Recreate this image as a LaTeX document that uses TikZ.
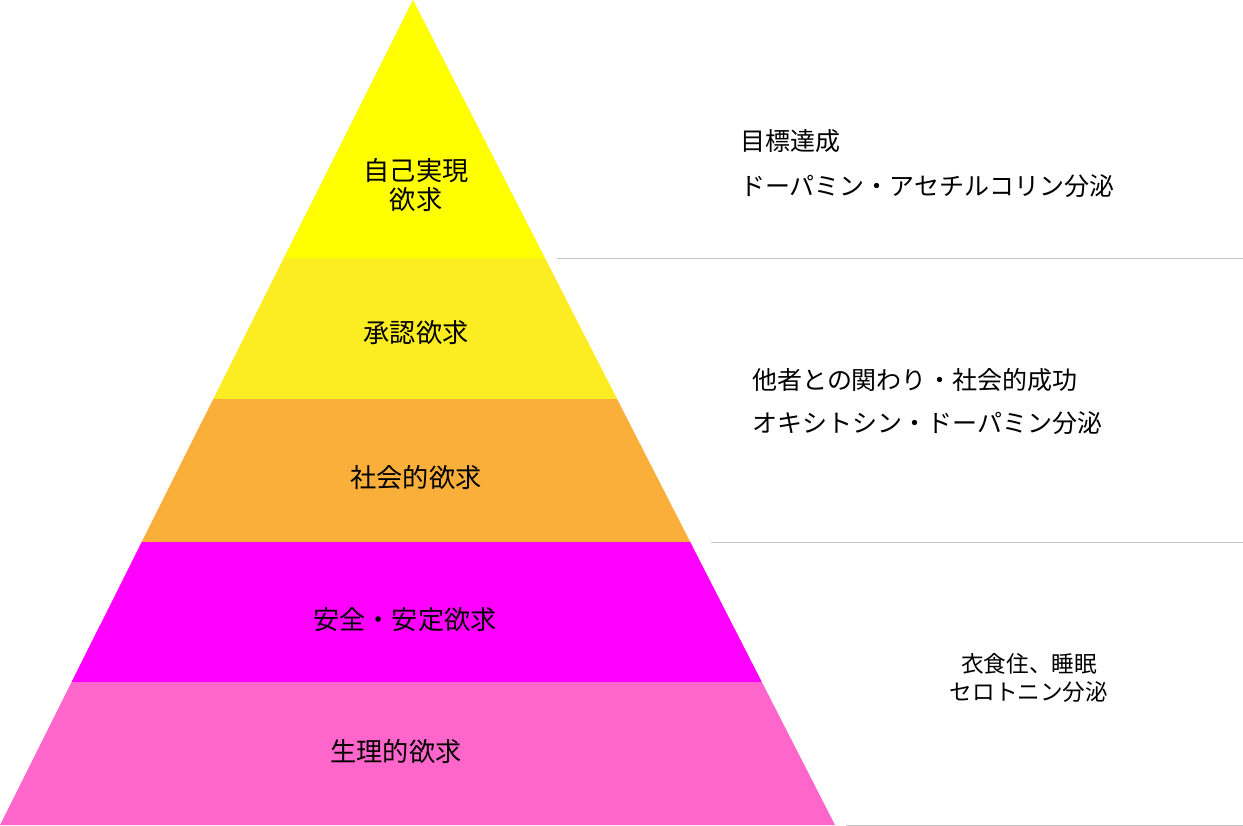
\documentclass[tikz,border=0pt]{standalone}
\usepackage{fontspec}
\setmainfont{Noto Sans CJK JP}
\usepackage{xcolor}
\usepackage{tikz}
\usetikzlibrary{calc}

\definecolor{selfyellow}{HTML}{FFFF00}
\definecolor{esteemyellow}{HTML}{FCEC22}
\definecolor{socialorange}{HTML}{FAAF3B}
\definecolor{safetymagenta}{HTML}{FF00FF}
\definecolor{bodypink}{HTML}{FF66CC}
\definecolor{rulegray}{HTML}{C4C4C4}

\begin{document}
\begin{tikzpicture}[x=1bp, y=-1bp,
    level/.style={font=\fontsize{26.3}{30}\selectfont, align=center, inner sep=0pt},
    note/.style={font=\fontsize{25.1}{30}\selectfont, anchor=west, inner sep=0pt},
    smallnote/.style={font=\fontsize{22.7}{28}\selectfont, align=center, inner sep=0pt},
    divider/.style={draw=rulegray, line width=1bp}]
    \useasboundingbox (0,0) rectangle (1243,826);

    \coordinate (A) at (413,0);
    \coordinate (BL) at (0,825);
    \coordinate (BR) at (835,825);

    % bands of the pyramid
    \begin{scope}
        \clip (A) -- (BL) -- (BR) -- cycle;
        \fill[selfyellow] (0,0) rectangle (1243,257.5);
        \fill[esteemyellow] (0,257.5) rectangle (1243,399);
        \fill[socialorange] (0,399) rectangle (1243,541.5);
        \fill[safetymagenta] (0,541.5) rectangle (1243,681.7);
        \fill[bodypink] (0,681.7) rectangle (1243,826);
    \end{scope}

    % dividers on the right
    \coordinate (d1) at (557,258);
    \coordinate (d1e) at (1243,258);
    \coordinate (d2) at (711,542);
    \coordinate (d2e) at (1243,542);
    \coordinate (d3) at (846,825.3);
    \coordinate (d3e) at (1243,825.3);
    \draw[divider] (d1) -- (d1e);
    \draw[divider] (d2) -- (d2e);
    \draw[divider] (d3) -- (d3e);

    % levels
    \node[level] (self) at (416,185) {自己実現\\欲求};
    \node[level] (esteem) at (416,333) {承認欲求};
    \node[level] (social) at (416,478) {社会的欲求};
    \node[level] (safety) at (405,620) {安全・安定欲求};
    \node[level] (body) at (396,752) {生理的欲求};

    % notes
    \node[note] (goal) at (740,141) {目標達成};
    \node[note] (goalhorm) at (740,186) {ドーパミン・アセチルコリン分泌};
    \node[note] (others) at (752,380) {他者との関わり・社会的成功};
    \node[note] (othershorm) at (752,423) {オキシトシン・ドーパミン分泌};
    \node[smallnote] (life) at (1029,678) {衣食住、睡眠\\セロトニン分泌};
\end{tikzpicture}
\end{document}
